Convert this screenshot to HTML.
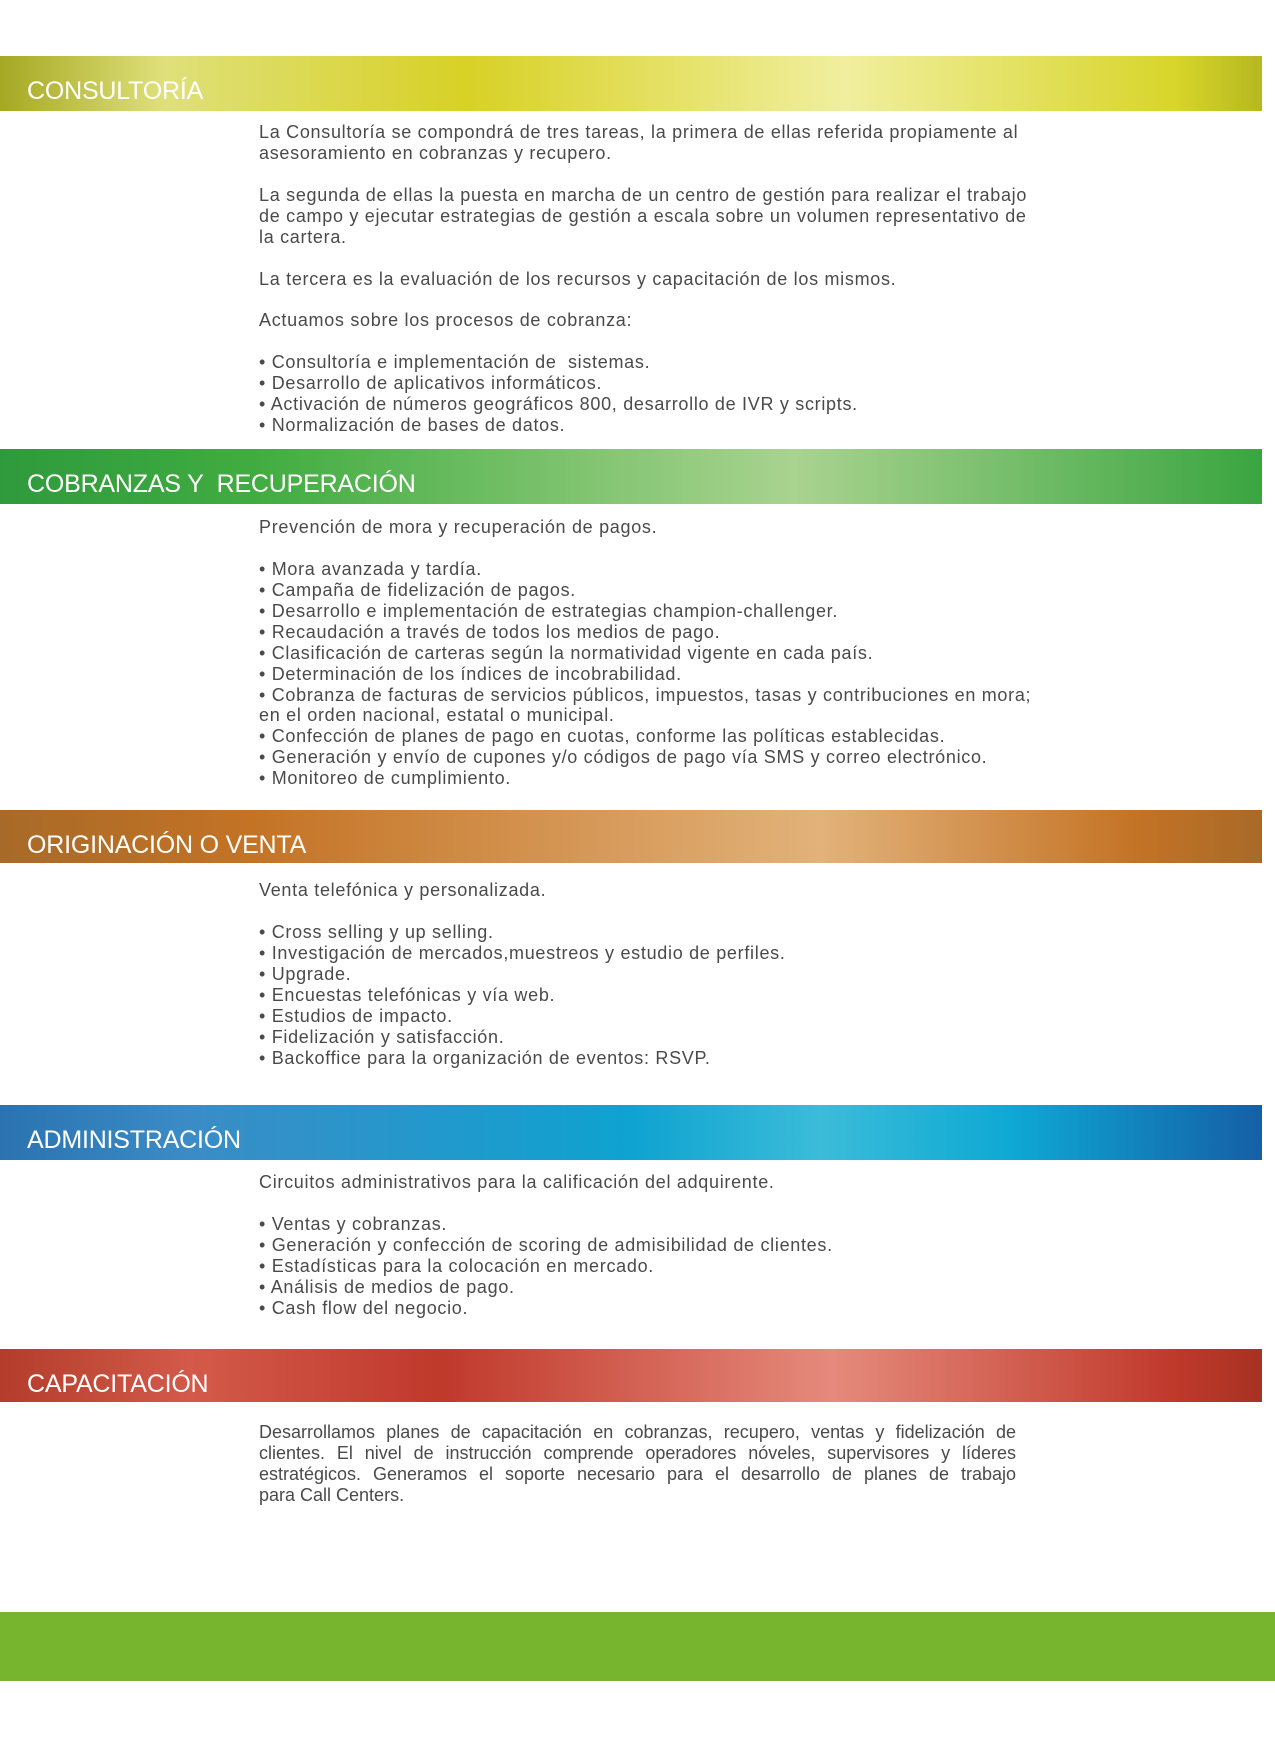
<!DOCTYPE html>
<html><head><meta charset="utf-8"><style>
body{margin:0;width:1275px;height:1751px;background:#fff;position:relative;overflow:hidden;font-family:"Liberation Sans",sans-serif}
.band{position:absolute;left:0;width:1262px;height:55px;color:#fff;font-size:25px;box-sizing:border-box;padding:20px 0 0 27px;line-height:30px;letter-spacing:-0.2px}
.txt{position:absolute;left:259px;width:757px;font-size:18px;letter-spacing:0.7px;line-height:20.93px;color:#4a4a4a;white-space:nowrap}
.jl{text-align:justify;text-align-last:justify;letter-spacing:0}
</style></head><body>
<div class="band" style="top:56px;background:linear-gradient(90deg,#a5a823 0%,#dfe07a 13%,#d8d126 37%,#f0ef9e 67%,#d8d52b 93%,#b5b81f 100%)">CONSULTORÍA</div>
<div class="txt" style="top:122px">La Consultoría se compondrá de tres tareas, la primera de ellas referida propiamente al<br>asesoramiento en cobranzas y recupero.<br><br>La segunda de ellas la puesta en marcha de un centro de gestión para realizar el trabajo<br>de campo y ejecutar estrategias de gestión a escala sobre un volumen representativo de<br>la cartera.<br><br>La tercera es la evaluación de los recursos y capacitación de los mismos.<br><br>Actuamos sobre los procesos de cobranza:<br><br>• Consultoría e implementación de &nbsp;sistemas.<br>• Desarrollo de aplicativos informáticos.<br>• Activación de números geográficos 800, desarrollo de IVR y scripts.<br>• Normalización de bases de datos.</div>

<div class="band" style="top:449px;background:linear-gradient(90deg,#2f9a3c 0%,#40ac40 20%,#a9d38f 63%,#3aa540 100%)">COBRANZAS Y &nbsp;RECUPERACIÓN</div>
<div class="txt" style="top:517px">Prevención de mora y recuperación de pagos.<br><br>• Mora avanzada y tardía.<br>• Campaña de fidelización de pagos.<br>• Desarrollo e implementación de estrategias champion-challenger.<br>• Recaudación a través de todos los medios de pago.<br>• Clasificación de carteras según la normatividad vigente en cada país.<br>• Determinación de los índices de incobrabilidad.<br>• Cobranza de facturas de servicios públicos, impuestos, tasas y contribuciones en mora;<br>en el orden nacional, estatal o municipal.<br>• Confección de planes de pago en cuotas, conforme las políticas establecidas.<br>• Generación y envío de cupones y/o códigos de pago vía SMS y correo electrónico.<br>• Monitoreo de cumplimiento.</div>

<div class="band" style="top:810px;height:53px;background:linear-gradient(90deg,#a86a28 0%,#c47325 20%,#e2b27a 65%,#c47325 90%,#a86a28 100%)">ORIGINACIÓN O VENTA</div>
<div class="txt" style="top:880px">Venta telefónica y personalizada.<br><br>• Cross selling y up selling.<br>• Investigación de mercados,muestreos y estudio de perfiles.<br>• Upgrade.<br>• Encuestas telefónicas y vía web.<br>• Estudios de impacto.<br>• Fidelización y satisfacción.<br>• Backoffice para la organización de eventos: RSVP.</div>

<div class="band" style="top:1105px;background:linear-gradient(90deg,#2a73b0 0%,#3b8cc6 15%,#0ea3d0 50%,#3bbcd9 65%,#0ea9d4 80%,#155fa5 100%)">ADMINISTRACIÓN</div>
<div class="txt" style="top:1172px">Circuitos administrativos para la calificación del adquirente.<br><br>• Ventas y cobranzas.<br>• Generación y confección de scoring de admisibilidad de clientes.<br>• Estadísticas para la colocación en mercado.<br>• Análisis de medios de pago.<br>• Cash flow del negocio.</div>

<div class="band" style="top:1349px;height:53px;background:linear-gradient(90deg,#b33c2a 0%,#d35a4a 15%,#c0392b 35%,#e58a7c 66%,#c0392b 93%,#a63222 100%)">CAPACITACIÓN</div>
<div class="txt" style="top:1422px;white-space:normal">
<div class="jl">Desarrollamos planes de capacitación en cobranzas, recupero, ventas y fidelización de</div>
<div class="jl">clientes. El nivel de instrucción comprende operadores nóveles, supervisores y líderes</div>
<div class="jl">estratégicos. Generamos el soporte necesario para el desarrollo de planes de trabajo</div>
<div style="letter-spacing:0">para Call Centers.</div>
</div>

<div style="position:absolute;left:0;top:1612px;width:1275px;height:69px;background:#78b52e"></div>
</body></html>
